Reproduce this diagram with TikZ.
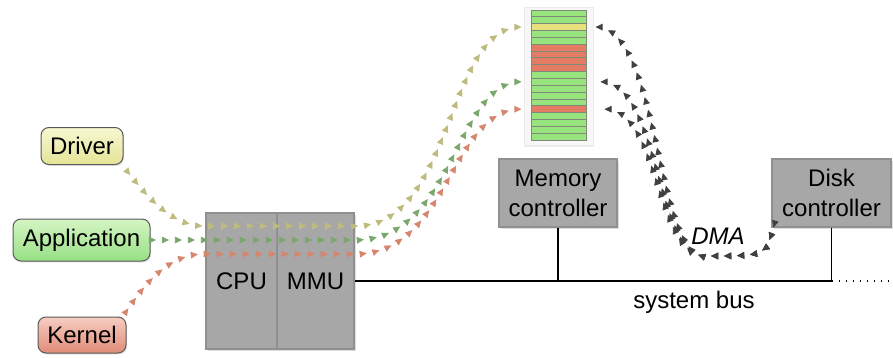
\documentclass[tikz,border=0pt]{standalone}
\usepackage{fontspec}
\setmainfont{Liberation Sans}
\usetikzlibrary{arrows.meta,decorations.markings,shadows}

\definecolor{drvcol}{HTML}{BDBB7E}
\definecolor{appcol}{HTML}{7AA86C}
\definecolor{kercol}{HTML}{D6866F}
\definecolor{dmacol}{HTML}{404040}
\definecolor{drvtop}{HTML}{F7F7D2}
\definecolor{drvbot}{HTML}{E4E496}
\definecolor{apptop}{HTML}{D4F5C4}
\definecolor{appbot}{HTML}{98E084}
\definecolor{kertop}{HTML}{F6CDC2}
\definecolor{kerbot}{HTML}{E08C78}
\definecolor{boxgray}{HTML}{A7A7A7}
\definecolor{boxedge}{HTML}{909090}
\definecolor{cgreen}{HTML}{98E47C}
\definecolor{cyellow}{HTML}{E8E07C}
\definecolor{cred}{HTML}{E47C64}
\definecolor{celledge}{HTML}{7F8A7A}

\begin{document}
\begin{tikzpicture}[x=0.5pt,y=-0.5pt,
    font=\fontsize{12}{15}\selectfont,
    user/.style={draw=black!65, line width=0.5pt, rounded corners=4pt, inner sep=0pt,
      drop shadow={opacity=0.2,shadow xshift=0.6pt,shadow yshift=-0.8pt}},
    unit/.style={draw=boxedge, line width=0.6pt, fill=boxgray, inner sep=0pt, align=center,
      drop shadow={opacity=0.25,shadow xshift=0.8pt,shadow yshift=-1.2pt}},
    panel/.style={draw=black!8, fill=black!3, minimum width=34.5pt, minimum height=69pt,
      drop shadow={opacity=0.15,shadow xshift=0.6pt,shadow yshift=-1pt}},
    cellbox/.style={draw=celledge, line width=0.4pt, minimum width=27.5pt, minimum height=3.42pt, inner sep=0pt},
    bus/.style={line width=0.75pt},
    % marks are counted from the memory end, so the paths run backwards
    tripath/.style={postaction={decorate,
      decoration={markings, mark=between positions 0 and 1 step 6.5pt with {\arrowreversed{Triangle[length=3.6pt,width=3.3pt,color=#1]}}}}}]
  \useasboundingbox (0,0) rectangle (893,358);

  % Users on the left
  \node[user, top color=drvtop, bottom color=drvbot, minimum width=41pt, minimum height=18.5pt] (driver) at (82,146) {Driver};
  \node[user, top color=apptop, bottom color=appbot, minimum width=68.5pt, minimum height=21pt] (app) at (81.5,240) {Application};
  \node[user, top color=kertop, bottom color=kerbot, minimum width=44pt, minimum height=18pt] (kernel) at (82,335) {Kernel};

  % Processor
  \node[unit, minimum width=35.5pt, minimum height=68pt] (cpu) at (241.5,281) {CPU};
  \node[unit, minimum width=38.5pt, minimum height=68pt] (mmu) at (315.5,281) {MMU};

  % Controllers
  \node[unit, minimum width=59pt, minimum height=34pt] (memctl) at (558,193) {Memory\\controller};
  \node[unit, minimum width=59.5pt, minimum height=34pt] (diskctl) at (831.5,193) {Disk\\controller};

  % Memory with its rows
  \node[panel] (mem) at (558.5,76) {};
  \foreach \i/\c in {1/cgreen,2/cgreen,3/cyellow,4/cgreen,5/cgreen,6/cred,7/cred,8/cred,9/cred,10/cgreen,
                     11/cgreen,12/cgreen,13/cgreen,14/cgreen,15/cred,16/cgreen,17/cgreen,18/cgreen,19/cgreen}
    \node[cellbox, fill=\c] (cell\i) at (558.5,{10+(\i-0.5)*6.842}) {};

  % System bus
  \coordinate (busend) at (893,281);
  \draw[bus] (mmu.east) -- (mmu.east -| diskctl.south) coordinate (tap);
  \draw[bus, dash pattern=on 0.75pt off 2.75pt] (tap) -- (busend);
  \draw[bus] (memctl.south) -- (memctl.south |- mmu.east);
  \draw[bus] (diskctl.south) -- (tap);
  \node (buslabel) at (694,302) {system bus};

  % Accesses through the MMU
  \coordinate (drvout) at ([shift={(1pt,-2pt)}]driver.south east);
  \coordinate (appout) at ([xshift=2.5pt]app.east);
  \coordinate (kerout) at ([shift={(-0.5pt,2pt)}]kernel.north east);
  \coordinate (drvin) at ([xshift=-4.5pt]cell3.west);
  \coordinate (appin) at ([xshift=-4.5pt]cell11.west);
  \coordinate (kerin) at ([xshift=-4.5pt]cell15.west);
  \path[tripath=drvcol] (drvin) .. controls (445,27) and (455,226) .. (355,226) -- (205,226)
    .. controls (172,226) and (148,198) .. (drvout);
  \path[tripath=appcol] (appin) .. controls (455,82) and (455,240) .. (355,240) -- (appout);
  \path[tripath=kercol] (kerin) .. controls (450,109) and (450,254) .. (355,254) -- (205,254)
    .. controls (168,254) and (145,284) .. (kerout);

  % DMA transfers
  \coordinate (dmaout) at ([xshift=1pt]diskctl.south west);
  \coordinate (dmain1) at ([xshift=4.5pt]cell3.east);
  \coordinate (dmain2) at ([xshift=7pt]cell11.east);
  \coordinate (dmain3) at ([xshift=9pt]cell15.east);
  \foreach \e/\y in {dmain1/27,dmain2/82,dmain3/109}
    \path[tripath=dmacol] (\e) .. controls (660,\y) and (655,256) .. (705,256)
      .. controls (765,256) .. (dmaout);
  \node (dmalabel) at (718,236) {\itshape DMA};
\end{tikzpicture}
\end{document}
